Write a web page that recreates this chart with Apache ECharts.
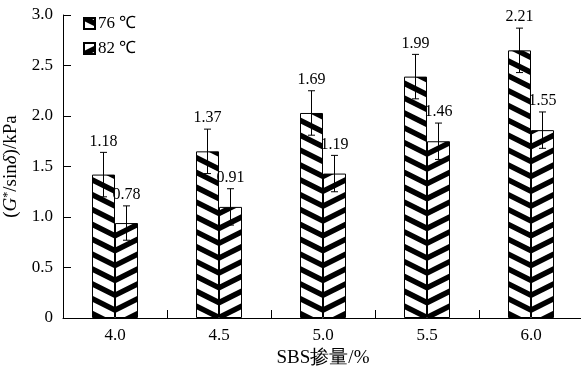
<!DOCTYPE html>
<html><head><meta charset="utf-8">
<script src="https://cdn.jsdelivr.net/npm/echarts@6/dist/echarts.min.js"></script>
<style>html,body{margin:0;padding:0;background:#fff}#c{width:581px;height:367px}</style>
</head><body><div id="c"></div>
<script>
const categories = ['4.0', '4.5', '5.0', '5.5', '6.0'];
const seriesNames = ['76 ℃', '82 ℃'];
const values76 = [1.42, 1.65, 2.03, 2.39, 2.65];
const values82 = [0.94, 1.10, 1.43, 1.75, 1.86];
const err76 = [0.22, 0.22, 0.22, 0.22, 0.22];
const err82 = [0.17, 0.18, 0.18, 0.18, 0.18];
const labels76 = ['1.18', '1.37', '1.69', '1.99', '2.21'];
const labels82 = ['0.78', '0.91', '1.19', '1.46', '1.55'];
const yTicks = [0, 0.5, 1.0, 1.5, 2.0, 2.5, 3.0];

const FONT = '"Liberation Serif", "Times New Roman", serif';
const BAR_W = 23;

// hatch tile: slope 0.5, vertical period 104/7 so chevrons meet at every bar boundary
function makePattern(back, offset) {
  const W = 208, H = 104, P = 104 / 7;
  const c = document.createElement('canvas');
  c.width = W; c.height = H;
  const ctx = c.getContext('2d');
  ctx.fillStyle = '#fff';
  ctx.fillRect(0, 0, W, H);
  ctx.strokeStyle = '#000';
  ctx.lineWidth = 5.4;
  for (let k = -20; k <= 30; k++) {
    const y0 = offset + k * P;
    ctx.beginPath();
    if (back) { ctx.moveTo(-10, y0 - 5); ctx.lineTo(W + 10, y0 + 0.5 * W + 5); }
    else { ctx.moveTo(-10, y0 + 5); ctx.lineTo(W + 10, y0 - 0.5 * W - 5); }
    ctx.stroke();
  }
  return { image: c, repeat: 'repeat' };
}

const chart = echarts.init(document.getElementById('c'), null, { renderer: 'canvas' });

function errSeries(vals, errs, labels, offset) {
  return {
    type: 'custom',
    silent: true,
    z: 5,
    data: vals.map((v, i) => [i, v, errs[i]]),
    renderItem: function (params, api) {
      const i = api.value(0);
      const v = api.value(1);
      const e = api.value(2);
      const lab = labels[i];
      const top = api.coord([i, v + e]);
      const bot = api.coord([i, v - e]);
      const x = top[0] + offset;
      const cap = 3.5;
      return {
        type: 'group',
        children: [
          { type: 'line', shape: { x1: x, y1: top[1], x2: x, y2: bot[1] }, style: { stroke: '#000', lineWidth: 1 } },
          { type: 'line', shape: { x1: x - cap, y1: top[1], x2: x + cap, y2: top[1] }, style: { stroke: '#000', lineWidth: 1 } },
          { type: 'line', shape: { x1: x - cap, y1: bot[1], x2: x + cap, y2: bot[1] }, style: { stroke: '#000', lineWidth: 1 } },
          { type: 'text', style: { text: lab, x: x, y: top[1] - 3, align: 'center', verticalAlign: 'bottom', font: '16px ' + FONT, fill: '#000' } }
        ]
      };
    }
  };
}

chart.setOption({
  animation: false,
  backgroundColor: '#fff',
  grid: { left: 63, right: -2, top: 15, bottom: 49, containLabel: false, outerBoundsMode: 'none' },
  legend: {
    data: seriesNames,
    orient: 'vertical',
    left: 78,
    top: 10,
    itemWidth: 11,
    itemHeight: 11,
    itemGap: 8,
    icon: 'rect',
    textStyle: { fontFamily: FONT, fontSize: 17, color: '#000', padding: [0, 0, 0, -2] }
  },
  xAxis: {
    type: 'category',
    data: categories,
    name: 'SBS掺量/%',
    nameLocation: 'middle',
    nameGap: 31,
    nameTextStyle: { fontFamily: FONT, fontSize: 19, color: '#000' },
    axisLine: { lineStyle: { color: '#000', width: 1 } },
    axisTick: { show: true, inside: true, length: 8, lineStyle: { color: '#000' } },
    axisLabel: { fontFamily: FONT, fontSize: 17, color: '#000', margin: 9 }
  },
  yAxis: {
    type: 'value',
    min: yTicks[0],
    max: yTicks[yTicks.length - 1],
    interval: 0.5,
    name: '{p|(}{i|G}{s|*}{p|/sin}{i|δ}{p|)/kPa}',
    nameLocation: 'middle',
    nameGap: 41,
    nameTextStyle: {
      color: '#000',
      rich: {
        p: { fontFamily: FONT, fontSize: 19, color: '#000' },
        i: { fontFamily: FONT, fontSize: 19, fontStyle: 'italic', color: '#000' },
        s: { fontFamily: FONT, fontSize: 12, color: '#000', verticalAlign: 'top', padding: [0, 0, 7, 0] }
      }
    },
    splitLine: { show: false },
    axisLine: { show: true, lineStyle: { color: '#000', width: 1 } },
    axisTick: { show: true, inside: true, length: 8, lineStyle: { color: '#000' } },
    axisLabel: {
      fontFamily: FONT, fontSize: 17, color: '#000', margin: 10,
      formatter: v => (v === 0 ? '0' : v.toFixed(1))
    }
  },
  series: [
    {
      name: seriesNames[0], type: 'bar', data: values76, barWidth: BAR_W, barGap: '0%',
      itemStyle: { color: makePattern(true, 0), borderColor: '#000', borderWidth: 1 }
    },
    {
      name: seriesNames[1], type: 'bar', data: values82, barWidth: BAR_W, barGap: '0%',
      itemStyle: { color: makePattern(false, 115), borderColor: '#000', borderWidth: 1 }
    },
    errSeries(values76, err76, labels76, -BAR_W / 2),
    errSeries(values82, err82, labels82, BAR_W / 2)
  ]
});
</script></body></html>
